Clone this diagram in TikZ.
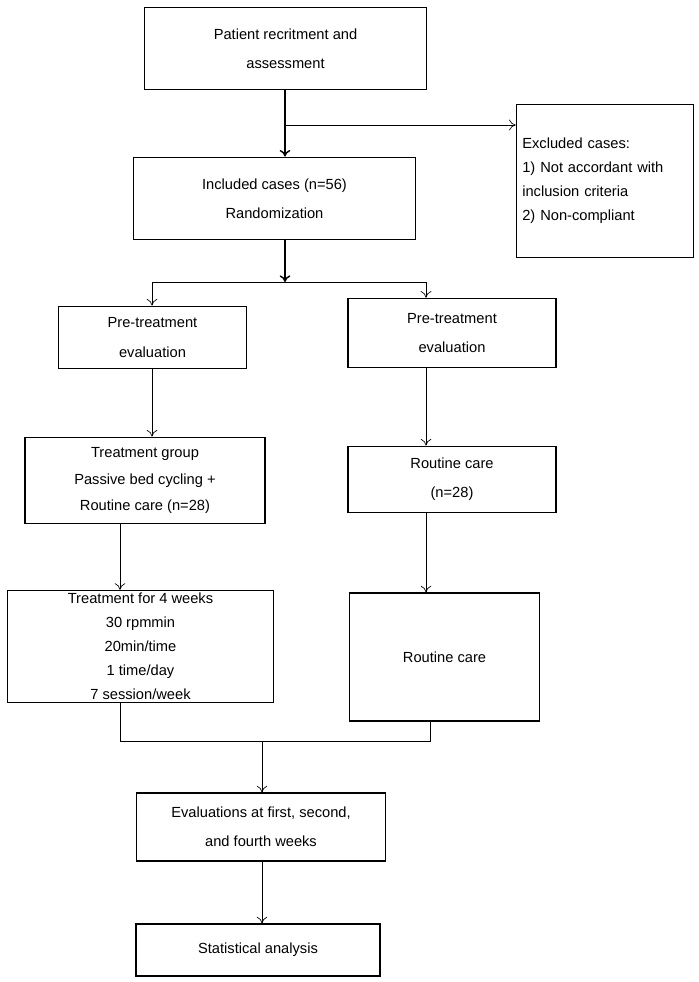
\documentclass[tikz,border=0pt]{standalone}
\usepackage{fontspec}
\setmainfont{Liberation Sans}
\usetikzlibrary{arrows.meta}

\begin{document}
\begin{tikzpicture}[x=0.75pt, y=-0.75pt]
    \useasboundingbox (0,0) rectangle (699,982);
    \begin{scope}[box/.style={draw,line width=0.9pt,align=center,inner sep=2pt,font=\fontsize{11}{22}\selectfont},
                  arr/.style={-{To[length=5pt,width=8pt]},line width=0.5pt},
                  thk/.style={-{To[length=5pt,width=8pt]},line width=1.1pt}]
        \node[box, minimum width=211pt, minimum height=62pt] (pat) at (285.5, 48.5) {Patient recritment and\\assessment};
        \node[box, minimum width=133pt, minimum height=115pt, text width=124pt, align=left, font=\fontsize{11}{18}\selectfont] (exc) at (605, 181) {Excluded cases:\\1) Not accordant with\\inclusion criteria\\2) Non-compliant};
        \node[box, minimum width=211pt, minimum height=62pt] (inc) at (274.5, 198.5) {Included cases (n=56)\\Randomization};
        \node[box, minimum width=141pt, minimum height=47pt] (preL) at (152.5, 337.5) {Pre-treatment\\evaluation};
        \node[box, minimum width=156pt, minimum height=52pt] (preR) at (452, 333) {Pre-treatment\\evaluation};
        \node[box, minimum width=180pt, minimum height=65pt, font=\fontsize{11}{20}\selectfont] (trt) at (145, 480.5) {Treatment group\\Passive bed cycling +\\Routine care (n=28)};
        \node[box, minimum width=156pt, minimum height=50pt] (rc) at (452, 479.5) {Routine care\\(n=28)};
        \node[box, minimum width=199pt, minimum height=83pt, font=\fontsize{11}{18}\selectfont] (wk) at (140.5, 646.5) {Treatment for 4 weeks\\30 rpmmin\\20min/time\\1 time/day\\7 session/week};
        \node[box, minimum width=143pt, minimum height=96pt] (rcb) at (444.5, 657) {Routine care};
        \node[box, minimum width=187pt, minimum height=51pt] (eva) at (261, 827) {Evaluations at first, second,\\and fourth weeks};
        \node[box, minimum width=183pt, minimum height=39pt] (sta) at (258, 950) {Statistical analysis};
        % junction points
        \coordinate (j1) at (285, 125);
        \coordinate (j2) at (285, 282);
        \coordinate (jL) at (152, 282);
        \coordinate (jR) at (426, 282);
        \coordinate (k1) at (120, 741);
        \coordinate (k2) at (430, 741);
        \coordinate (k3) at (262, 741);
        \draw[thk] (pat.south -| j1) -- (inc.north -| j1);
        \draw[arr] (j1) -- (exc.west |- j1);
        \draw[thk] (inc.south -| j2) -- (j2);
        \draw[line width=0.5pt] (jL) -- (jR);
        \draw[arr] (jL) -- (preL.north -| jL);
        \draw[arr] (jR) -- (preR.north -| jR);
        \draw[arr] (preL.south -| jL) -- (trt.north -| jL);
        \draw[arr] (preR.south -| jR) -- (rc.north -| jR);
        \draw[arr] (trt.south -| k1) -- (wk.north -| k1);
        \draw[arr] (rc.south -| jR) -- (rcb.north -| jR);
        \draw[line width=0.5pt] (wk.south -| k1) -- (k1) -- (k2) -- (rcb.south -| k2);
        \draw[arr] (k3) -- (eva.north -| k3);
        \draw[arr] (eva.south -| k3) -- (sta.north -| k3);
    \end{scope}
\end{tikzpicture}
\end{document}
